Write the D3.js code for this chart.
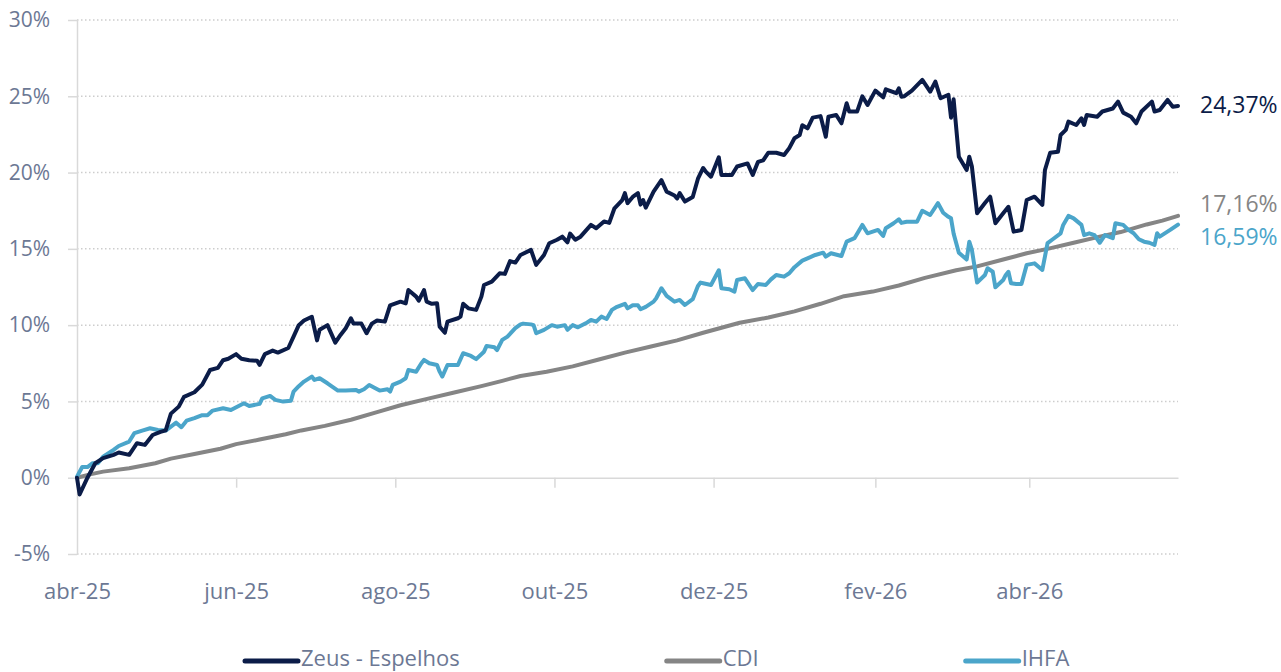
<!DOCTYPE html>
<html>
<head>
<meta charset="utf-8">
<script src="https://cdn.jsdelivr.net/npm/d3@7"></script>
<style>
  body { margin: 0; background: #fff; }
  #chart text { font-family: "Open Sans", sans-serif; }
</style>
</head>
<body>
<div id="chart"></div>
<script>
// dias corridos desde 01/04/2025 e retorno acumulado (%)
const startDate = "2025-04-01";

const zeusDays = [0,1,4,7,10,14,16,20,23,26,29,32,34,36,39,41,45,48,51,54,56,58,61,63,66,69,70,72,75,77,81,83,85,87,90,92,93,96,99,101,103,105,106,109,111,113,115,118,120,124,126,127,130,131,133,134,136,138,139,141,142,146,147,148,150,153,155,156,159,162,164,166,168,170,174,176,179,181,184,186,188,189,191,193,197,199,202,204,206,209,210,211,213,215,216,217,218,221,224,226,229,230,231,233,236,238,240,241,243,246,247,251,253,257,259,261,263,265,268,271,273,275,277,278,280,282,285,287,288,291,293,295,296,299,301,303,306,309,310,314,315,316,317,320,324,327,329,331,334,335,336,338,341,342,343,345,348,350,352,355,357,359,362,364,367,370,371,373,376,377,379,380,383,385,386,387,391,393,397,399,401,404,406,408,412,413,415,418,420,422];
const zeusValues = [0,-1.1,0,0.95,1.28,1.5,1.65,1.5,2.26,2.15,2.8,3.0,3.1,4.2,4.66,5.3,5.6,6.1,7.06,7.2,7.7,7.8,8.1,7.8,7.7,7.67,7.4,8.1,8.33,8.2,8.5,9.25,10.0,10.3,10.55,9.0,9.7,10.0,8.85,9.36,9.8,10.45,10.1,10.1,9.47,10.1,10.3,10.23,11.3,11.54,11.43,12.3,11.87,11.6,12.3,11.54,11.4,11.43,9.9,9.5,10.23,10.45,10.56,11.4,11.1,11.0,11.87,12.63,12.85,13.4,13.36,14.2,14.1,14.6,14.93,13.95,14.6,15.37,15.6,15.8,15.43,16.0,15.6,15.8,16.57,16.35,16.8,16.7,17.66,18.2,18.65,18.0,18.4,18.65,17.9,18.2,17.7,18.75,19.5,18.75,18.5,18.3,18.65,18.1,18.4,19.6,20.3,20.06,19.73,21.0,19.84,19.84,20.4,20.6,19.84,20.7,20.8,21.3,21.3,21.15,21.6,22.25,22.46,23.1,22.9,23.6,23.7,22.35,23.66,23.77,23.23,24.54,24.0,24.0,25.0,24.43,25.37,24.93,25.46,25.2,25.52,24.97,25.0,25.37,26.07,25.3,25.96,24.87,25.1,23.6,24.8,21.04,20.17,21.04,20.4,17.33,18.0,18.42,16.68,17.33,17.76,16.13,16.24,18.2,18.42,17.88,20.17,21.3,21.37,22.46,22.8,23.34,23.12,23.56,23.12,23.77,23.66,24.0,24.2,24.65,23.93,23.66,23.23,24.0,24.65,24.0,24.1,24.76,24.32,24.37];

const ihfaDays = [0,2,4,6,8,10,14,16,20,22,25,28,31,34,36,38,40,42,45,48,50,52,56,59,64,66,70,71,74,76,79,82,83,85,87,90,91,93,96,100,103,107,108,110,112,116,119,120,121,124,126,127,130,132,133,135,138,139,140,142,146,147,148,151,153,156,157,160,161,163,165,168,170,171,174,175,176,179,182,184,187,188,190,192,195,197,199,201,203,205,207,210,211,213,215,216,218,221,222,224,226,229,231,233,236,238,239,240,243,246,247,250,252,253,256,259,261,264,266,268,271,273,275,278,280,283,286,287,289,293,295,298,301,303,307,309,310,313,315,316,318,322,324,327,330,332,334,335,336,338,341,342,343,345,348,349,351,352,355,356,357,358,360,362,364,367,370,372,374,377,378,380,382,385,386,388,390,392,394,397,398,401,403,405,407,409,411,413,414,415,419,422];
const ihfaValues = [0.07,0.7,0.7,0.95,0.95,1.38,1.82,2.08,2.37,2.92,3.09,3.24,3.13,3.09,3.35,3.61,3.31,3.74,3.9,4.1,4.1,4.4,4.55,4.44,4.88,4.7,4.84,5.2,5.36,5.1,4.99,5.05,5.64,6.0,6.3,6.63,6.41,6.52,6.19,5.71,5.71,5.75,5.64,5.8,6.08,5.71,5.8,5.64,6.08,6.3,6.52,7.06,6.95,7.5,7.72,7.5,7.39,6.95,6.63,7.39,7.39,7.77,8.16,7.98,7.77,8.26,8.64,8.55,8.37,9.03,9.25,9.8,10.05,10.1,10.05,10.0,9.47,9.69,10.0,9.9,10.0,9.69,10.0,9.86,10.12,10.34,10.23,10.56,10.4,11.0,11.2,11.4,11.1,11.3,11.3,11.04,11.2,11.54,11.76,12.42,11.92,11.54,11.65,11.32,11.7,12.57,12.79,12.75,12.63,13.6,12.42,12.35,12.2,12.96,13.07,12.3,12.7,12.63,13.0,13.29,13.18,13.4,13.8,14.23,14.38,14.6,14.75,14.49,14.71,14.53,15.47,15.7,16.57,16.02,16.24,15.85,16.35,16.68,16.94,16.7,16.78,16.78,17.5,17.22,18.0,17.37,17.1,17.0,16.0,14.75,14.3,15.47,14.93,12.79,13.29,13.73,13.5,12.48,12.96,13.29,13.5,12.75,12.7,12.7,13.95,14.05,13.62,15.37,15.63,16.02,16.57,17.16,17.0,16.57,15.9,16.02,15.9,15.4,15.9,15.7,16.68,16.57,16.24,16.02,15.63,15.47,15.4,15.26,16.02,15.8,16.24,16.59];

const cdiDays = [0,5,10,20,30,36,45,55,61,70,80,86,95,105,115,124,135,145,155,163,170,180,190,200,210,220,230,240,254,265,275,285,294,305,315,325,337,345,355,364,372,382,392,400,410,416,422];
const cdiValues = [0,0.22,0.4,0.62,0.95,1.25,1.55,1.9,2.2,2.5,2.85,3.1,3.4,3.8,4.3,4.75,5.2,5.6,6.0,6.35,6.67,6.95,7.3,7.75,8.2,8.6,9.0,9.5,10.16,10.5,10.9,11.4,11.9,12.2,12.6,13.1,13.6,13.85,14.3,14.71,15.0,15.4,15.8,16.1,16.6,16.85,17.16];

const seriesNames = ["Zeus - Espelhos", "CDI", "IHFA"];
const seriesColors = ["#0b1c48", "#858585", "#4ba5ca"];
const endLabels = ["24,37%", "17,16%", "16,59%"];

const tickDates = ["2025-04-01","2025-06-01","2025-08-01","2025-10-01","2025-12-01","2026-02-01","2026-04-01"];
const monthNames = ["jan","fev","mar","abr","mai","jun","jul","ago","set","out","nov","dez"];
const yTicks = [-5, 0, 5, 10, 15, 20, 25, 30];

const width = 1281, height = 672;
const plotLeft = 77, plotRight = 1178, plotTop = 20, plotBottom = 554;
const axisGray = "#d9d9d9", textGray = "#6c7894";

const svg = d3.select("#chart").append("svg")
  .attr("width", width)
  .attr("height", height);

const t0 = new Date(startDate + "T00:00:00Z");
const toDate = d => d3.utcDay.offset(t0, d);

const x = d3.scaleUtc()
  .domain([t0, toDate(422)])
  .range([plotLeft, plotRight]);

const y = d3.scaleLinear()
  .domain([-5, 30])
  .range([plotBottom, plotTop]);

// linhas de grade pontilhadas
svg.append("g")
  .selectAll("line")
  .data(yTicks.filter(v => v !== 0))
  .join("line")
  .attr("x1", plotLeft)
  .attr("x2", plotRight)
  .attr("y1", d => y(d))
  .attr("y2", d => y(d))
  .attr("stroke", "#cdcdcd")
  .attr("stroke-width", 1.5)
  .attr("stroke-dasharray", "1.5,2.5");

// eixo Y
const yAxis = svg.append("g")
  .attr("transform", `translate(${plotLeft},0)`)
  .call(d3.axisLeft(y).tickValues(yTicks).tickSize(9).tickSizeOuter(0).tickPadding(18)
    .tickFormat(v => v + "%"));
yAxis.select(".domain").attr("stroke", axisGray).attr("stroke-width", 1.5);
yAxis.selectAll(".tick line").attr("stroke", axisGray).attr("stroke-width", 1.5);
yAxis.selectAll("text").attr("fill", textGray).style("font-size", "21px");

// eixo X (na linha do zero)
const xAxis = svg.append("g")
  .attr("transform", `translate(0,${y(0)})`)
  .call(d3.axisBottom(x)
    .tickValues(tickDates.map(s => new Date(s + "T00:00:00Z")))
    .tickSize(10).tickSizeOuter(0).tickPadding(96)
    .tickFormat(d => monthNames[d.getUTCMonth()] + "-" + String(d.getUTCFullYear()).slice(2)));
xAxis.select(".domain").attr("stroke", axisGray).attr("stroke-width", 1.5);
xAxis.selectAll(".tick line").attr("stroke", axisGray).attr("stroke-width", 1.5);
xAxis.selectAll("text").attr("fill", textGray).style("font-size", "22px");

// séries
const series = [
  { name: seriesNames[0], days: zeusDays, values: zeusValues, color: seriesColors[0], label: endLabels[0], dy: 1 },
  { name: seriesNames[1], days: cdiDays, values: cdiValues, color: seriesColors[1], label: endLabels[1], dy: -10 },
  { name: seriesNames[2], days: ihfaDays, values: ihfaValues, color: seriesColors[2], label: endLabels[2], dy: 14 }
];

const line = d3.line()
  .x(d => x(d.date))
  .y(d => y(d.value));

const drawOrder = [1, 2, 0];
drawOrder.forEach(i => {
  const s = series[i];
  const pts = s.days.map((d, k) => ({ date: toDate(d), value: s.values[k] }));
  svg.append("path")
    .datum(pts)
    .attr("fill", "none")
    .attr("stroke", s.color)
    .attr("stroke-width", 4)
    .attr("stroke-linejoin", "round")
    .attr("stroke-linecap", "round")
    .attr("d", line);
});

// rótulos finais
series.forEach(s => {
  const last = s.values[s.values.length - 1];
  svg.append("text")
    .attr("x", 1200)
    .attr("y", y(last) + s.dy)
    .attr("dominant-baseline", "middle")
    .attr("fill", s.color)
    .style("font-size", "23px")
    .text(s.label);
});

// legenda
const legend = svg.append("g");
let lx = 245;
series.forEach(s => {
  const g = legend.append("g").attr("transform", `translate(${lx},0)`);
  g.append("line")
    .attr("x1", 0).attr("x2", 53)
    .attr("y1", 661).attr("y2", 661)
    .attr("stroke", s.color)
    .attr("stroke-width", 5)
    .attr("stroke-linecap", "round");
  const t = g.append("text")
    .attr("x", 56)
    .attr("y", 666)
    .attr("fill", textGray)
    .style("font-size", "22px")
    .text(s.name);
  lx += 56 + t.node().getComputedTextLength() + 207;
});
</script>
</body>
</html>
